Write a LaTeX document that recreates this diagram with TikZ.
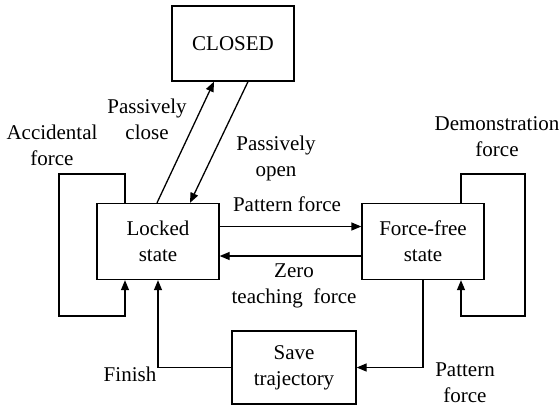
\documentclass[tikz,border=0pt]{standalone}
\usepackage{fontspec}
\setmainfont{Liberation Serif}
\usetikzlibrary{arrows.meta}
\tikzset{
    statebox/.style={draw, line width=1.3pt, align=center, inner sep=0pt},
    flow/.style={line width=1.3pt, -{Triangle[length=10pt,width=8pt]}},
    lbl/.style={align=center, font=\fontsize{21}{26}\selectfont}
}

\begin{document}
\begin{tikzpicture}[x=1pt, y=-1pt, font=\fontsize{21}{26}\selectfont]
    \useasboundingbox (0,0) rectangle (560,408);

    % States
    \node[statebox, minimum width=122pt, minimum height=75pt] (closed) at (233,43.5) {CLOSED};
    \node[statebox, minimum width=122pt, minimum height=76pt] (locked) at (158,241.5) {Locked\\state};
    \node[statebox, minimum width=122pt, minimum height=76pt] (free) at (423,241.5) {Force-free\\state};
    \node[statebox, minimum width=124pt, minimum height=73pt] (save) at (294,367.5) {Save\\trajectory};

    % Transitions
    \draw[flow] ([xshift=-1pt]locked.north) -- ([xshift=-19pt]closed.south);
    \draw[flow] ([xshift=15pt]closed.south) -- ([xshift=32pt]locked.north);
    \draw[flow] ([yshift=15pt]locked.east) -- ([yshift=15pt]free.west);
    \draw[flow] ([yshift=-14.5pt]free.west) -- ([yshift=-14.5pt]locked.east);
    \draw[flow] (free.south) |- (save.east);
    \draw[flow] (save.west) -| (locked.south);

    % Self loops
    \draw[flow] ([xshift=-33pt]locked.north) -- ++(0,-29) -- ++(-66,0) -- ++(0,142)
        -- ++(66,0) -- ([xshift=-33pt]locked.south);
    \draw[flow] ([xshift=38pt]free.north) -- ++(0,-29) -- ++(64,0) -- ++(0,142)
        -- ++(-64,0) -- ([xshift=38pt]free.south);

    % Labels
    \node[lbl] (l-close) at (147,119) {Passively\\close};
    \node[lbl] (l-open) at (276,158) {Passively\\open};
    \node[lbl] (l-acc) at (52,145) {Accidental\\force};
    \node[lbl] (l-demo) at (497,137) {Demonstration\\force};
    \node[lbl] (l-pat) at (287,204) {Pattern force};
    \node[lbl] (l-zero) at (294,286) {Zero\\teaching\ \ force};
    \node[lbl] (l-fin) at (130,374) {Finish};
    \node[lbl] (l-pat2) at (465,383) {Pattern\\force};
\end{tikzpicture}
\end{document}
